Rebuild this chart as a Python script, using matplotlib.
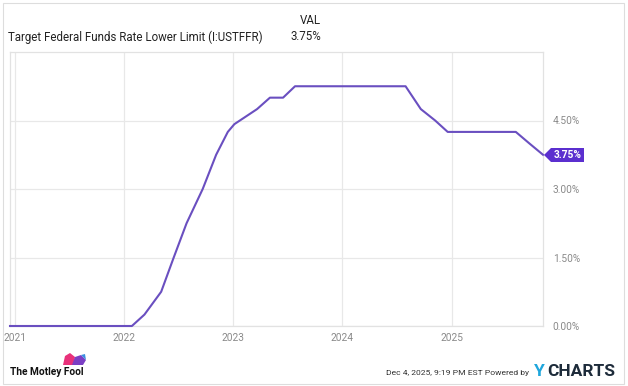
import matplotlib
matplotlib.use("Agg")
import matplotlib.pyplot as plt
from matplotlib.patches import Polygon, Rectangle
import pandas as pd

plt.rcParams["font.family"] = ["Roboto", "DejaVu Sans"]

# vertices of the series as drawn (date, lower limit in %)
dates = [
    "2020-12-15", "2022-01-27", "2022-03-10", "2022-05-05", "2022-06-16",
    "2022-07-29", "2022-09-21", "2022-11-05", "2022-12-14", "2023-01-05",
    "2023-03-22", "2023-05-04", "2023-06-17", "2023-07-27", "2024-07-31",
    "2024-09-20", "2024-11-07", "2024-12-19", "2025-08-04", "2025-09-18",
    "2025-11-03",
]
rates = [
    0.0, 0.0, 0.25, 0.75, 1.50,
    2.25, 3.00, 3.75, 4.25, 4.42,
    4.75, 5.00, 5.00, 5.25, 5.25,
    4.75, 4.50, 4.25, 4.25, 4.00,
    3.75,
]
y_ticks = [0.0, 1.5, 3.0, 4.5]
year_ticks = ["2021", "2022", "2023", "2024", "2025"]

series_name = "Target Federal Funds Rate Lower Limit (I:USTFFR)"
last_value = "3.75%"

LINE = "#6a4fc0"
BADGE = "#5b2fcf"
GRID = "#e8e8e8"
TICK = "#8a8a8a"

x = pd.to_datetime(dates)

fig = plt.figure(figsize=(6.28, 3.86), dpi=100)
W, H = 628, 386

# outer light frame
fig.patches.append(Rectangle((3 / W, 2 / H), 621 / W, 381 / H, transform=fig.transFigure,
                             fill=False, edgecolor="#dddddd", linewidth=0.8))

ax = fig.add_axes([10 / W, 1 - 326 / H, 533 / W, 274 / H])
ax.plot(x, rates, color=LINE, linewidth=1.5, solid_joinstyle="round", zorder=3, clip_on=False)

ax.set_xlim(x[0], x[-1])
ax.set_ylim(0, 6)
ax.set_yticks(y_ticks)
ax.set_yticklabels([f"{v:.2f}%" for v in y_ticks])
ax.yaxis.tick_right()
ax.set_xticks(pd.to_datetime([f"{yr}-01-01" for yr in year_ticks]))
ax.set_xticklabels(year_ticks)
ax.tick_params(axis="both", length=0, labelsize=7.3, colors=TICK)
ax.tick_params(axis="y", pad=7)
ax.tick_params(axis="x", pad=5)
ax.grid(True, color=GRID, linewidth=0.9)
for side in ["left", "top", "right", "bottom"]:
    ax.spines[side].set_color("#e2e2e2")
    ax.spines[side].set_linewidth(0.9)

# overlay in pixel coordinates for badge, header and footer
ax_b = fig.add_axes([0, 0, 1, 1], facecolor="none")
ax_b.set_xlim(0, W)
ax_b.set_ylim(H, 0)
ax_b.axis("off")
ax_b.add_patch(Polygon([(544, 155), (551, 148), (584, 148), (584, 162), (551, 162)],
                       closed=True, facecolor=BADGE, edgecolor="none"))
ax_b.text(567.5, 155.5, last_value, color="white", fontsize=7.3, fontweight="bold",
          ha="center", va="center")

# header
ax_b.text(8, 37, series_name, fontsize=8.3, color="#222222", va="center", ha="left")
ax_b.text(321, 20, "VAL", fontsize=8.3, color="#222222", va="center", ha="right")
ax_b.text(321, 37, last_value, fontsize=8.3, color="#222222", va="center", ha="right")

# footer
ax_b.text(10, 372, "The Motley Fool", fontsize=7.3, fontweight="bold", color="#111111",
          va="center", ha="left")
ax_b.add_patch(Polygon([(63, 365), (65, 356), (70, 353), (75, 357), (74, 365)],
                       closed=True, facecolor="#e8317a", edgecolor="none"))
ax_b.add_patch(Polygon([(72, 365), (75, 357), (81, 355), (86, 360), (83, 365)],
                       closed=True, facecolor="#7b3fc4", edgecolor="none"))
ax_b.add_patch(Polygon([(81, 355), (85, 354), (86, 360)],
                       closed=True, facecolor="#3b8fe0", edgecolor="none"))
ax_b.text(529, 373, "Dec 4, 2025, 9:19 PM EST Powered by", fontsize=6.1, color="#333333",
          va="center", ha="right")
ax_b.text(534, 372, "Y", fontsize=12.5, fontweight="bold", color="#1fa6dc", va="center", ha="left")
ax_b.text(547, 372, "CHARTS", fontsize=12.5, fontweight="bold", color="#1d2b3a", va="center", ha="left")

fig.savefig("out.png", dpi=100)
